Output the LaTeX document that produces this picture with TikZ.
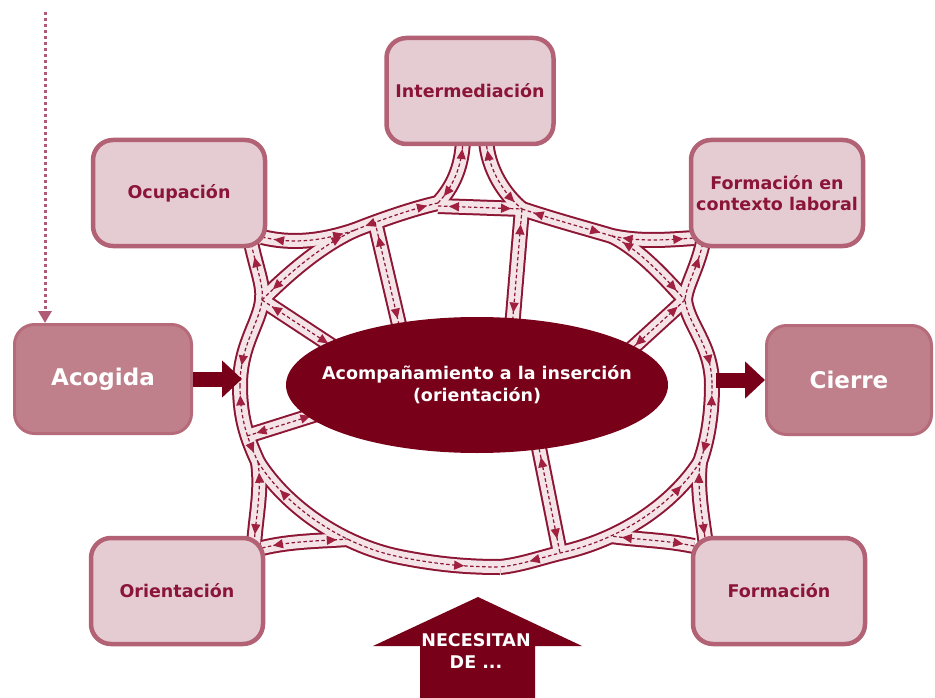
\documentclass[tikz,border=0pt]{standalone}
\usepackage{fontspec}
\setmainfont{DejaVu Sans}
\usetikzlibrary{arrows.meta,decorations.markings,shapes.geometric}

\definecolor{vino}{RGB}{120,0,24}
\definecolor{rojoborde}{RGB}{140,22,52}
\definecolor{flecha}{RGB}{160,32,64}
\definecolor{rosacaja}{RGB}{229,204,211}
\definecolor{rosaborde}{RGB}{178,98,116}
\definecolor{rosafuerte}{RGB}{192,128,139}
\definecolor{rosacalle}{RGB}{244,228,232}
\definecolor{textocaja}{RGB}{139,21,56}
\definecolor{puntos}{RGB}{176,90,117}

\tikzset{
  caja/.style={draw=rosaborde, fill=rosacaja, line width=4.5pt, rounded corners=20pt,
    minimum width=172pt, minimum height=106pt, text=textocaja, align=center,
    font=\fontsize{17.5}{21}\selectfont\bfseries},
  cajafuerte/.style={caja, draw=rosaborde!70!rosafuerte, fill=rosafuerte, line width=3pt,
    minimum height=109pt, text=white, font=\fontsize{23}{27}\selectfont\bfseries},
  calleborde/.style={draw=rojoborde, line width=16pt},
  callefondo/.style={draw=rosacalle, line width=12pt},
  callemedio/.style={draw=rojoborde, line width=1.2pt, dash pattern=on 3.5pt off 2.5pt,
    decoration={markings,
      mark=at position 0.13 with {\arrowreversed{Triangle[length=10pt,width=9pt,color=flecha]}},
      mark=at position 0.87 with {\arrow{Triangle[length=10pt,width=9pt,color=flecha]}}},
    postaction={decorate}},
  flechagorda/.style={draw=vino, line width=15pt, -{Triangle[length=20pt,width=36pt]}},
}

% red de calles (se dibuja en tres capas)
\newcommand{\redvial}[1]{%
  \draw[#1] (250,238) .. controls (256,268) and (264,285) .. (262,300) .. controls (260,322) and (240,345) .. (240,385);
  \draw[#1] (262,237) .. controls (295,245) and (325,240) .. (355,230);
  \draw[#1] (262,300) .. controls (290,272) and (322,245) .. (355,230);
  \draw[#1] (355,230) .. controls (380,220) and (415,208) .. (438,203);
  \draw[#1] (438,203) .. controls (452,188) and (462,168) .. (463,140);
  \draw[#1] (438,206) -- (522,209);
  \draw[#1] (486,140) .. controls (488,170) and (505,195) .. (522,209);
  \draw[#1] (522,209) .. controls (555,220) and (585,228) .. (612,236);
  \draw[#1] (612,236) .. controls (640,242) and (665,240) .. (694,238);
  \draw[#1] (612,236) .. controls (640,250) and (665,278) .. (685,300);
  \draw[#1] (704,238) .. controls (698,268) and (686,285) .. (685,300) .. controls (688,325) and (712,345) .. (712,385);
  \draw[#1] (240,385) .. controls (240,420) and (248,440) .. (258,462);
  \draw[#1] (258,462) .. controls (262,490) and (256,515) .. (254,545);
  \draw[#1] (258,462) .. controls (285,505) and (340,545) .. (400,557) .. controls (440,565) and (470,567) .. (500,567);
  \draw[#1] (262,548) .. controls (290,541) and (320,541) .. (348,539);
  \draw[#1] (712,385) .. controls (712,420) and (706,445) .. (700,462);
  \draw[#1] (700,462) .. controls (697,490) and (702,515) .. (706,545);
  \draw[#1] (700,462) .. controls (672,505) and (620,540) .. (560,553) .. controls (540,558) and (520,565) .. (500,567);
  \draw[#1] (694,546) .. controls (665,540) and (640,540) .. (611,536);
  \draw[#1] (262,300) -- (338,350);
  \draw[#1] (375,222) -- (401,333);
  \draw[#1] (522,209) -- (512,328);
  \draw[#1] (685,300) -- (628,352);
  \draw[#1] (247,436) -- (320,413);
  \draw[#1] (538,443) -- (560,553);
}

\begin{document}
\begin{tikzpicture}[x=1pt,y=-1pt]
\useasboundingbox (0,0) rectangle (935,698);
% flecha punteada de entrada
\coordinate (entrada) at (45,12);
% calles
\redvial{calleborde}
\redvial{callefondo}
\redvial{callemedio}
% centro
\node[ellipse, fill=vino, minimum width=382pt, minimum height=136pt, inner xsep=-26pt, inner ysep=0pt,
  text=white, align=center, font=\fontsize{17.5}{22}\selectfont\bfseries]
  (acompanamiento) at (477,385) {Acompañamiento a la inserción\\(orientación)};
% cajas
\node[caja, minimum width=167pt] (intermediacion) at (470,91) {Intermediación};
\node[caja] (ocupacion) at (179,193) {Ocupación};
\node[caja] (contexto) at (777,193) {Formación en\\contexto laboral};
\node[caja] (orientacion) at (177,591) {Orientación};
\node[caja] (formacion) at (779,591) {Formación};
\node[cajafuerte, minimum width=177pt] (acogida) at (103,379) {Acogida};
\node[cajafuerte, minimum width=165pt] (cierre) at (849,380) {Cierre};
% flechas
\draw[puntos, line width=3pt, dash pattern=on 3pt off 3pt, -{Triangle[length=12pt,width=13pt]}]
  (entrada) -- (acogida.north -| entrada);
\coordinate (anilloO) at (242,379);
\coordinate (anilloE) at (716,380);
\draw[flechagorda] (acogida.east) -- (anilloO);
\draw[flechagorda] (anilloE) -- (cierre.west);
\fill[vino] (478,597) -- (582,646) -- (535,646) -- (535,698) -- (420,698) -- (420,646) -- (373,646) -- cycle;
\node[text=white, align=center, font=\fontsize{17.5}{22}\selectfont\bfseries] (necesitan) at (476,651) {NECESITAN\\DE ...};
\end{tikzpicture}
\end{document}
